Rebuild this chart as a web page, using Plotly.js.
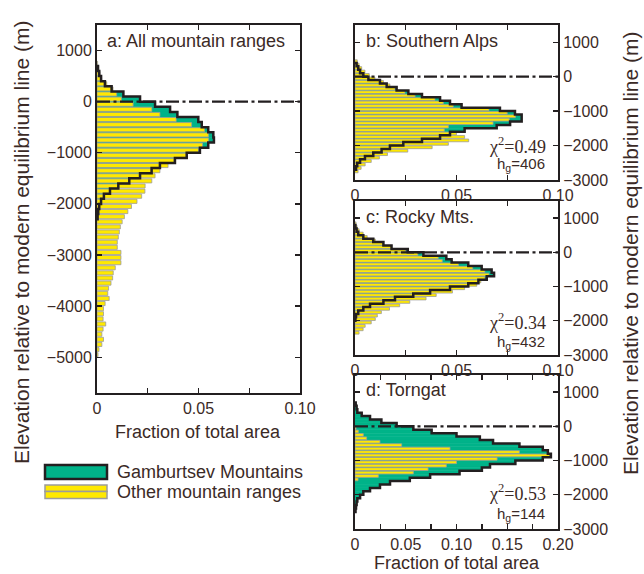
<!DOCTYPE html>
<html>
<head>
<meta charset="utf-8">
<script src="https://cdn.plot.ly/plotly-3.0.1.min.js"></script>
<style>html,body{margin:0;padding:0;background:#fff;}#chart{width:644px;height:574px;}</style>
</head>
<body>
<div id="chart"></div>
<script>
// ---------- DATA (100 m elevation bins, bin centres in m) ----------
// Panel a: All mountain ranges
const aOtherElev = [750,650,550,450,350,250,150,50,-50,-150,-250,-350,-450,-550,-650,-750,-850,-950,-1050,-1150,-1250,-1350,-1450,-1550,-1650,-1750,-1850,-1950,-2050,-2150,-2250,-2350,-2450,-2550,-2650,-2750,-2850,-2950,-3050,-3150,-3250,-3350,-3450,-3550,-3650,-3750,-3850,-3950,-4050,-4150,-4250,-4350,-4450,-4550,-4650,-4750,-4850,-4950];
const aOtherVal  = [0.0003,0.0008,0.0015,0.0023,0.0048,0.0079,0.0097,0.012,0.0178,0.027,0.031,0.039,0.0466,0.053,0.0549,0.055,0.052,0.050,0.044,0.038,0.035,0.031,0.0286,0.027,0.0237,0.0236,0.022,0.0197,0.017,0.0152,0.0135,0.0124,0.0115,0.011,0.0105,0.010,0.010,0.0118,0.0118,0.0118,0.009,0.008,0.0077,0.0069,0.0057,0.0053,0.006,0.004,0.0032,0.0032,0.003,0.0043,0.003,0.0024,0.0032,0.0024,0.001,0.0005];
const aGambElev  = [650,550,450,350,250,150,50,-50,-150,-250,-350,-450,-550,-650,-750,-850,-950,-1050,-1150,-1250,-1350,-1450,-1550,-1650,-1750,-1850,-1950,-2050,-2150,-2250];
const aGambVal   = [0.0005,0.0011,0.002,0.0039,0.0072,0.013,0.0212,0.0286,0.036,0.0396,0.0499,0.0516,0.0548,0.0573,0.0576,0.0548,0.0507,0.0442,0.0384,0.031,0.0269,0.0212,0.0159,0.0105,0.0064,0.0034,0.002,0.0011,0.0006,0.0003];

// Panel b: Southern Alps
const bOtherElev = [450,350,250,150,50,-50,-150,-250,-350,-450,-550,-650,-750,-850,-950,-1050,-1150,-1250,-1350,-1450,-1550,-1650,-1750,-1850,-1950,-2050,-2150,-2250,-2350,-2450,-2550,-2650,-2750];
const bOtherVal  = [0.0011,0.002,0.0033,0.0049,0.007,0.0098,0.014,0.0172,0.0197,0.0246,0.0296,0.0394,0.0435,0.0484,0.066,0.075,0.079,0.076,0.068,0.046,0.044,0.050,0.054,0.056,0.046,0.038,0.026,0.016,0.012,0.008,0.005,0.003,0.0015];
const bGambElev  = [350,250,150,50,-50,-150,-250,-350,-450,-550,-650,-750,-850,-950,-1050,-1150,-1250,-1350,-1450,-1550,-1650,-1750,-1850,-1950,-2050,-2150,-2250,-2350,-2450,-2550,-2650];
const bGambVal   = [0.0008,0.0016,0.0025,0.0041,0.0066,0.0123,0.0156,0.0205,0.0263,0.033,0.0419,0.0468,0.0525,0.0714,0.0788,0.0821,0.0821,0.0764,0.0698,0.054,0.0468,0.0419,0.033,0.0238,0.0172,0.0131,0.009,0.0049,0.0025,0.0011,0.0005];

// Panel c: Rocky Mts.
const cOtherElev = [850,750,650,550,450,350,250,150,50,-50,-150,-250,-350,-450,-550,-650,-750,-850,-950,-1050,-1150,-1250,-1350,-1450,-1550,-1650,-1750,-1850,-1950,-2050,-2150,-2250,-2350];
const cOtherVal  = [0.0005,0.001,0.002,0.004,0.006,0.010,0.014,0.018,0.025,0.031,0.041,0.043,0.051,0.058,0.064,0.066,0.064,0.062,0.060,0.054,0.048,0.040,0.035,0.027,0.022,0.017,0.013,0.011,0.010,0.008,0.005,0.004,0.002];
const cGambElev  = [750,650,550,450,350,250,150,50,-50,-150,-250,-350,-450,-550,-650,-750,-850,-950,-1050,-1150,-1250,-1350,-1450,-1550,-1650,-1750,-1850,-1950];
const cGambVal   = [0.0002,0.0008,0.0016,0.0041,0.009,0.014,0.018,0.026,0.0337,0.045,0.0476,0.0558,0.0624,0.0673,0.0685,0.0649,0.0608,0.0558,0.0468,0.037,0.0287,0.0197,0.014,0.0074,0.0041,0.0016,0.0005,0.0002];

// Panel d: Torngat
const dOtherElev = [-50,-150,-250,-350,-450,-550,-650,-750,-850,-950,-1050,-1150,-1250,-1350,-1450,-1550];
const dOtherVal  = [0.001,0.0033,0.0082,0.0115,0.0246,0.046,0.0936,0.162,0.192,0.140,0.100,0.090,0.072,0.0575,0.023,0.003];
const dGambElev  = [650,550,450,350,250,150,50,-50,-150,-250,-350,-450,-550,-650,-750,-850,-950,-1050,-1150,-1250,-1350,-1450,-1550,-1650,-1750,-1850,-1950,-2050,-2150,-2250,-2350,-2450];
const dGambVal   = [0.0007,0.0016,0.0023,0.0066,0.0148,0.026,0.041,0.0575,0.0755,0.100,0.123,0.136,0.162,0.185,0.190,0.193,0.185,0.158,0.133,0.125,0.103,0.074,0.054,0.0345,0.0246,0.0148,0.0082,0.005,0.0023,0.0016,0.001,0.0005];

const binSize = 100;
const panelLabels = ["a: All mountain ranges","b: Southern Alps","c: Rocky Mts.","d: Torngat"];
const chiText = ["χ<sup>2</sup>=0.49","χ<sup>2</sup>=0.34","χ<sup>2</sup>=0.53"];
const hgText  = ["h<sub>g</sub>=406","h<sub>g</sub>=432","h<sub>g</sub>=144"];
const seriesNames = ["Gamburtsev Mountains","Other mountain ranges"];
const yTickVals = {a:[-5000,-4000,-3000,-2000,-1000,0,1000], r:[-3000,-2000,-1000,0,1000]};
const xTickA = {vals:[0,0.025,0.05,0.075,0.1], text:["0","","0.05","","0.10"]};
const xTickD = {vals:[0,0.025,0.05,0.075,0.1,0.125,0.15,0.175,0.2], text:["0","","0.05","","0.10","","0.15","","0.20"]};

// ---------- STYLE ----------
const W=644, H=574;
const GREEN="#00b389", YELLOW="#ffe900", GREY="#9c9c9c", INK="#231f20", TXT="#3b2a26";
const FONT="Liberation Sans, Arial, Helvetica, sans-serif";
const SERIF="Liberation Serif, Times New Roman, serif";

function stepOutline(elev, vals){
  const idx = elev.map((e,i)=>i).sort((p,q)=>elev[p]-elev[q]);
  const xs=[0], ys=[elev[idx[0]]-binSize/2];
  idx.forEach(i=>{xs.push(vals[i]); ys.push(elev[i]-binSize/2);});
  xs.push(0); ys.push(elev[idx[idx.length-1]]+binSize/2);
  return {xs, ys};
}

const panels = [
  {oe:aOtherElev, ov:aOtherVal, ge:aGambElev, gv:aGambVal, xa:"x",  ya:"y"},
  {oe:bOtherElev, ov:bOtherVal, ge:bGambElev, gv:bGambVal, xa:"x2", ya:"y2"},
  {oe:cOtherElev, ov:cOtherVal, ge:cGambElev, gv:cGambVal, xa:"x3", ya:"y3"},
  {oe:dOtherElev, ov:dOtherVal, ge:dGambElev, gv:dGambVal, xa:"x4", ya:"y4"}
];

const traces=[];
panels.forEach(p=>{
  traces.push({type:"bar", orientation:"h", x:p.gv, y:p.ge, width:binSize, xaxis:p.xa, yaxis:p.ya,
    marker:{color:GREEN, line:{color:GREEN, width:0.6}}, name:seriesNames[0], showlegend:false, hoverinfo:"skip"});
  traces.push({type:"bar", orientation:"h", x:p.ov, y:p.oe, width:binSize*0.8, xaxis:p.xa, yaxis:p.ya,
    marker:{color:YELLOW, line:{color:GREY, width:0.8}}, name:seriesNames[1], showlegend:false, hoverinfo:"skip"});
  const s = stepOutline(p.ge, p.gv);
  traces.push({type:"scatter", mode:"lines", x:s.xs, y:s.ys, xaxis:p.xa, yaxis:p.ya,
    line:{color:INK, width:2.5, shape:"vh"}, showlegend:false, hoverinfo:"skip"});
});

function px(x){return x/W;}
function py(y){return 1-y/H;}

const axCommon = {ticks:"inside", ticklen:5, tickwidth:1.3, tickcolor:INK, mirror:"ticks", showline:true,
  linewidth:2, linecolor:INK, showgrid:false, zeroline:false, fixedrange:true,
  tickfont:{family:FONT, size:16, color:TXT}};

const layout = {
  width:W, height:H, margin:{l:0,r:0,t:0,b:0}, paper_bgcolor:"#fff", plot_bgcolor:"#fff",
  barmode:"overlay", showlegend:false, hovermode:false,
  font:{family:FONT, color:TXT},
  xaxis: Object.assign({}, axCommon, {domain:[px(97),px(300)], anchor:"y", range:[0,0.1], tickvals:xTickA.vals, ticktext:xTickA.text}),
  yaxis: Object.assign({}, axCommon, {domain:[py(393),py(25)], anchor:"x", range:[-5700,1500], tickvals:yTickVals.a, side:"left"}),
  xaxis2: Object.assign({}, axCommon, {domain:[px(355),px(558)], anchor:"y2", range:[0,0.1], tickvals:xTickA.vals, ticktext:xTickA.text}),
  yaxis2: Object.assign({}, axCommon, {domain:[py(180),py(25)], anchor:"x2", range:[-3000,1500], tickvals:yTickVals.r, side:"right"}),
  xaxis3: Object.assign({}, axCommon, {domain:[px(355),px(558)], anchor:"y3", range:[0,0.1], tickvals:xTickA.vals, ticktext:xTickA.text}),
  yaxis3: Object.assign({}, axCommon, {domain:[py(355),py(201)], anchor:"x3", range:[-3000,1500], tickvals:yTickVals.r, side:"right"}),
  xaxis4: Object.assign({}, axCommon, {domain:[px(355),px(558)], anchor:"y4", range:[0,0.2], tickvals:xTickD.vals, ticktext:xTickD.text}),
  yaxis4: Object.assign({}, axCommon, {domain:[py(529),py(375)], anchor:"x4", range:[-3000,1500], tickvals:yTickVals.r, side:"right"}),
  shapes: [], annotations: []
};

// dash-dot line at modern ELA (0 m) in each panel
["", "2", "3", "4"].forEach(k=>{
  layout.shapes.push({type:"line", xref:"x"+k+" domain", yref:"y"+k, x0:0, x1:1, y0:0, y1:0, layer:"above",
    line:{color:INK, width:2.2, dash:"13px,3.5px,3px,3.5px"}});
});

// legend swatches
layout.shapes.push({type:"rect", xref:"paper", yref:"paper", x0:px(45), x1:px(107), y0:py(479), y1:py(465),
  fillcolor:GREEN, line:{color:INK, width:2.5}});
layout.shapes.push({type:"rect", xref:"paper", yref:"paper", x0:px(45), x1:px(107), y0:py(491.5), y1:py(485),
  fillcolor:YELLOW, line:{color:GREY, width:1.5}});
layout.shapes.push({type:"rect", xref:"paper", yref:"paper", x0:px(45), x1:px(107), y0:py(498.5), y1:py(491.5),
  fillcolor:YELLOW, line:{color:GREY, width:1.5}});

function ann(text, x, y, opts){
  layout.annotations.push(Object.assign({text, xref:"paper", yref:"paper", x:px(x), y:py(y), showarrow:false,
    xanchor:"left", yanchor:"middle", font:{family:FONT, size:18, color:TXT}}, opts||{}));
}
ann(seriesNames[0], 115, 472);
ann(seriesNames[1], 115, 492);

// panel labels
ann(panelLabels[0], 105, 41);
ann(panelLabels[1], 364, 41);
ann(panelLabels[2], 364, 217);
ann(panelLabels[3], 364, 390);

// statistics
const statY = [[145,165],[321,342],[492,514]];
for(let i=0;i<3;i++){
  ann(chiText[i], 548, statY[i][0], {xanchor:"right", font:{family:SERIF, size:18, color:TXT}});
  ann(hgText[i], 547, statY[i][1], {xanchor:"right", font:{family:FONT, size:15, color:TXT}});
}

// axis titles
ann("Fraction of total area", 198, 432, {xanchor:"center"});
ann("Fraction of total area", 457, 563, {xanchor:"center"});
ann("Elevation relative to modern equilibrium line (m)", 21, 242, {xanchor:"center", textangle:-90, font:{family:FONT, size:21, color:TXT}});
ann("Elevation relative to modern equilibrium line (m)", 630, 253, {xanchor:"center", textangle:-90, font:{family:FONT, size:21, color:TXT}});

Plotly.newPlot("chart", traces, layout, {staticPlot:true, displayModeBar:false});
</script>
</body>
</html>
